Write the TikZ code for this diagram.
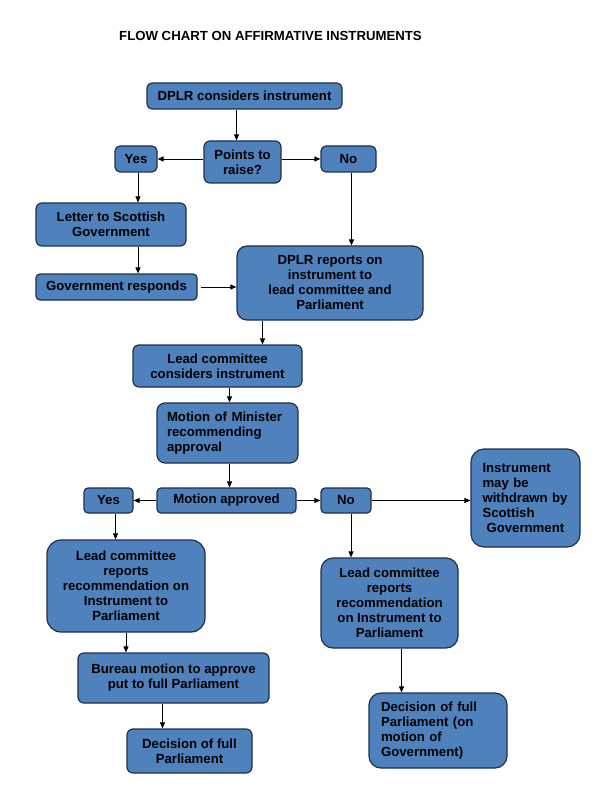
\documentclass[tikz,border=0pt]{standalone}
\usepackage{fontspec}
\setmainfont{Liberation Sans}
\usepackage{tikz}
\usetikzlibrary{arrows.meta}
\definecolor{boxfill}{RGB}{79,129,189}
\definecolor{boxline}{RGB}{30,48,75}

\begin{document}
\begin{tikzpicture}[x=1pt, y=-1pt, >={Triangle[length=6pt,width=5pt]},
    main/.style={draw=boxline, line width=1.2pt, fill=boxfill, rounded corners=5pt, inner sep=2pt, align=center, font=\bfseries\fontsize{13.2}{15}\selectfont},
    arrow/.style={->, line width=0.9pt}]
        \useasboundingbox (0,0) rectangle (596,799);
        \node[font=\bfseries\fontsize{13.2}{15}\selectfont] (0) at (270.5,35.5) {FLOW CHART ON AFFIRMATIVE INSTRUMENTS};
        \node[main, minimum width=195pt, minimum height=26pt] (1) at (244.5,96) {DPLR considers instrument};
        \node[main, minimum width=77pt, minimum height=42pt, rounded corners=6pt] (2) at (242.5,162) {Points to\\raise?};
        \node[main, minimum width=42pt, minimum height=26pt] (3) at (136,159) {Yes};
        \node[main, minimum width=55pt, minimum height=26pt] (4) at (348.5,159) {No};
        \node[main, minimum width=150pt, minimum height=43pt, rounded corners=6pt] (5) at (111,224.5) {Letter to Scottish\\Government};
        \node[main, minimum width=161pt, minimum height=26pt, rounded corners=4pt] (6) at (116.5,287) {Government responds};
        \node[main, minimum width=186pt, minimum height=74pt, rounded corners=10pt] (7) at (330,283) {DPLR reports on\\instrument to\\lead committee and\\Parliament};
        \node[main, minimum width=169pt, minimum height=42pt, rounded corners=6pt] (8) at (217.5,366) {Lead committee\\considers instrument};
        \node[main, text width=121pt, inner xsep=10pt, minimum height=60pt, align=left, rounded corners=8pt] (9) at (227.5,433) {Motion of Minister\\recommending\\approval};
        \node[main, minimum width=139pt, minimum height=25pt, rounded corners=4pt] (10) at (226.5,500.5) {Motion approved};
        \node[main, minimum width=49pt, minimum height=25pt, rounded corners=4pt] (11) at (108.5,500.5) {Yes};
        \node[main, minimum width=50pt, minimum height=25pt, rounded corners=4pt] (12) at (346,500.5) {No};
        \node[main, text width=86pt, inner xsep=11.5pt, minimum height=98pt, align=left, rounded corners=13pt] (13) at (525.5,498) {Instrument\\may be\\withdrawn by\\Scottish\\\hspace*{4pt}Government};
        \node[main, minimum width=158pt, minimum height=92pt, rounded corners=14pt] (14) at (126,586) {Lead committee\\reports\\recommendation on\\Instrument to\\Parliament};
        \node[main, minimum width=137pt, minimum height=90pt, rounded corners=12pt] (15) at (389.5,603) {Lead committee\\reports\\recommendation\\on Instrument to\\Parliament};
        \node[main, minimum width=191pt, minimum height=50pt, rounded corners=6pt] (16) at (173.5,678) {Bureau motion to approve\\put to full Parliament};
        \node[main, minimum width=125pt, minimum height=44pt, rounded corners=6pt] (17) at (189.5,751) {Decision of full\\Parliament};
        \node[main, text width=114pt, inner xsep=12pt, minimum height=75pt, align=left, rounded corners=12pt] (18) at (438,730.5) {Decision of full\\Parliament (on\\motion of\\Government)};
        \draw[arrow] ([xshift=-6pt]2.north |- 1.south) -- ([xshift=-6pt]2.north);
        \draw[arrow] (2.west |- 3) -- (3);
        \draw[arrow] (2.east |- 4) -- (4);
        \draw[arrow] ([xshift=2pt]3.south) -- ([xshift=2pt]3.south |- 5.north);
        \draw[arrow] ([xshift=3pt]4.south) -- ([xshift=3pt]4.south |- 7.north);
        \draw[arrow] ([xshift=2pt]3.south |- 5.south) -- ([xshift=2pt]3.south |- 6.north);
        \draw[arrow] ([xshift=3pt]6.east) -- (6.east -| 7.west);
        \draw[arrow] ([xshift=45pt]8.north |- 7.south) -- ([xshift=45pt]8.north);
        \draw[arrow] ([xshift=2pt]9.north |- 8.south) -- ([xshift=2pt]9.north);
        \draw[arrow] ([xshift=2pt]9.south) -- ([xshift=2pt]9.south |- 10.north);
        \draw[arrow] (10) -- (11);
        \draw[arrow] (10) -- (12);
        \draw[arrow] (12.east) -- (12.east -| 13.west);
        \draw[arrow] ([xshift=7pt]11.south) -- ([xshift=7pt]11.south |- 14.north);
        \draw[arrow] ([xshift=5pt]12.south) -- ([xshift=5pt]12.south |- 15.north);
        \draw[arrow] (14.south) -- (14.south |- 16.north);
        \draw[arrow] ([xshift=-27pt]17.north |- 16.south) -- ([xshift=-27pt]17.north);
        \draw[arrow] ([xshift=12pt]15.south) -- ([xshift=12pt]15.south |- 18.north);
    \end{tikzpicture}
\end{document}
